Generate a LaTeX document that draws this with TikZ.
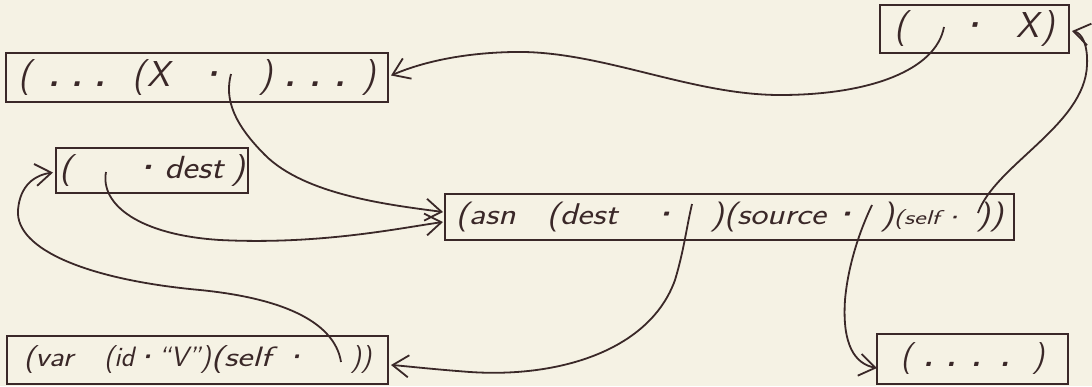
\documentclass[tikz,border=0pt]{standalone}
\usepackage{graphicx}
\usetikzlibrary{arrows.meta,calc}
\definecolor{bg}{RGB}{245,242,228}
\definecolor{ink}{RGB}{58,40,40}
\newcommand\hsp[1]{\hspace*{#1pt}}
\newcommand\hand{\sffamily\itshape}
\newcommand\xs[2]{\scalebox{#1}[1]{#2}}
\newcommand\fs[1]{\fontsize{#1}{#1}\selectfont}
\newcommand\dt{\textbf{.}}
\newcommand\md{\textbf{·}}
\begin{document}
\begin{tikzpicture}[x=1pt,y=-1pt,
  box/.style={draw=ink,line width=2pt,inner sep=0pt,text=ink},
  link/.style={draw=ink,line width=1.8pt,-{Straight Barb[length=16pt,width=22pt,line width=1.8pt]}},
]
\fill[bg] (0,0) rectangle (1092,386);
\useasboundingbox (0,0) rectangle (1092,386);

\node[box,minimum width=382pt,minimum height=49pt,font={\hand\fs{36}}] (list) at (197,77.5)
  {(\hsp{17}\dt\hsp{12}\dt\hsp{12}\dt\hsp{27}(\hsp{2}X\hsp{26}\md\hsp{32})\hsp{12}\dt\hsp{14}\dt\hsp{14}\dt\hsp{17})};
\node[box,minimum width=189pt,minimum height=48pt,font={\hand\fs{36}}] (top) at (974.5,29)
  {(\hsp{50}\md\hsp{28}X\hsp{3})};
\node[box,minimum width=192pt,minimum height=45pt,font={\hand\fs{32}}] (dest) at (152,170.5)
  {\xs{1.15}{(\hsp{50}\md\hsp{2.5}dest\hsp{7})}};
\node[box,minimum width=569pt,minimum height=46pt,font={\hand\fs{30}}] (asn) at (729.5,217)
  {\xs{1.2}{(asn\hsp{26}(dest\hsp{26}\md\hsp{26})(source\hsp{3}\md\hsp{17}){\fs{20}\xs{1.15}{(self}\hsp{3}\md}\hsp{11}))}};
\node[box,minimum width=381pt,minimum height=48pt,font={\hand\fs{28}}] (var) at (197.5,360)
  {\xs{1.15}{(var}\hsp{31}(id\md“V”)\xs{1.3}{(self}\hsp{12}\md\hsp{44}))};
\node[box,minimum width=191pt,minimum height=50pt,font={\hand\fs{32}}] (dots) at (972.5,359)
  {(\hsp{11}\dt\hsp{13}\dt\hsp{15}\dt\hsp{19}\dt\hsp{23})};

\coordinate (hA) at (944,27);
\coordinate (hB) at (231,74);
\coordinate (hC) at (106,172);
\coordinate (hD) at (692,204);
\coordinate (hE) at (341,362);
\coordinate (hF) at (872,205);
\coordinate (hG) at (978,213);

\draw[link] (hA) .. controls (936,70) and (870,95) .. (780,95) .. controls (690,95) and (600,50) .. (513,52) .. controls (460,53) and (420,63) .. ($(list.east)+(2,-2)$);
\draw[link] (hB) .. controls (224,100) and (235,125) .. (265,155) .. controls (305,195) and (390,205) .. ($(asn.west)+(-1,-5)$);
\draw[link] (hC) .. controls (100,205) and (140,235) .. (220,240) .. controls (320,245) and (400,228) .. ($(asn.west)+(-1,5)$);
\draw[link] (hD) .. controls (686,230) and (684,250) .. (675,280) .. controls (650,350) and (560,378) .. (470,372) .. controls (430,369) and (405,366) .. ($(var.east)+(2,5)$);
\draw[link] (hE) .. controls (336,330) and (300,300) .. (200,290) .. controls (90,280) and (15,250) .. (18,210) .. controls (20,185) and (35,175) .. ($(dest.west)+(-2,2)$);
\draw[link] (hF) .. controls (860,230) and (848,265) .. (845,300) .. controls (842,345) and (855,364) .. ($(dots.west)+(1,9)$);
\draw[link] (hG) .. controls (995,165) and (1085,125) .. (1087,65) .. controls (1088,45) and (1082,33) .. ($(top.east)+(2,2)$);
\end{tikzpicture}
\end{document}
